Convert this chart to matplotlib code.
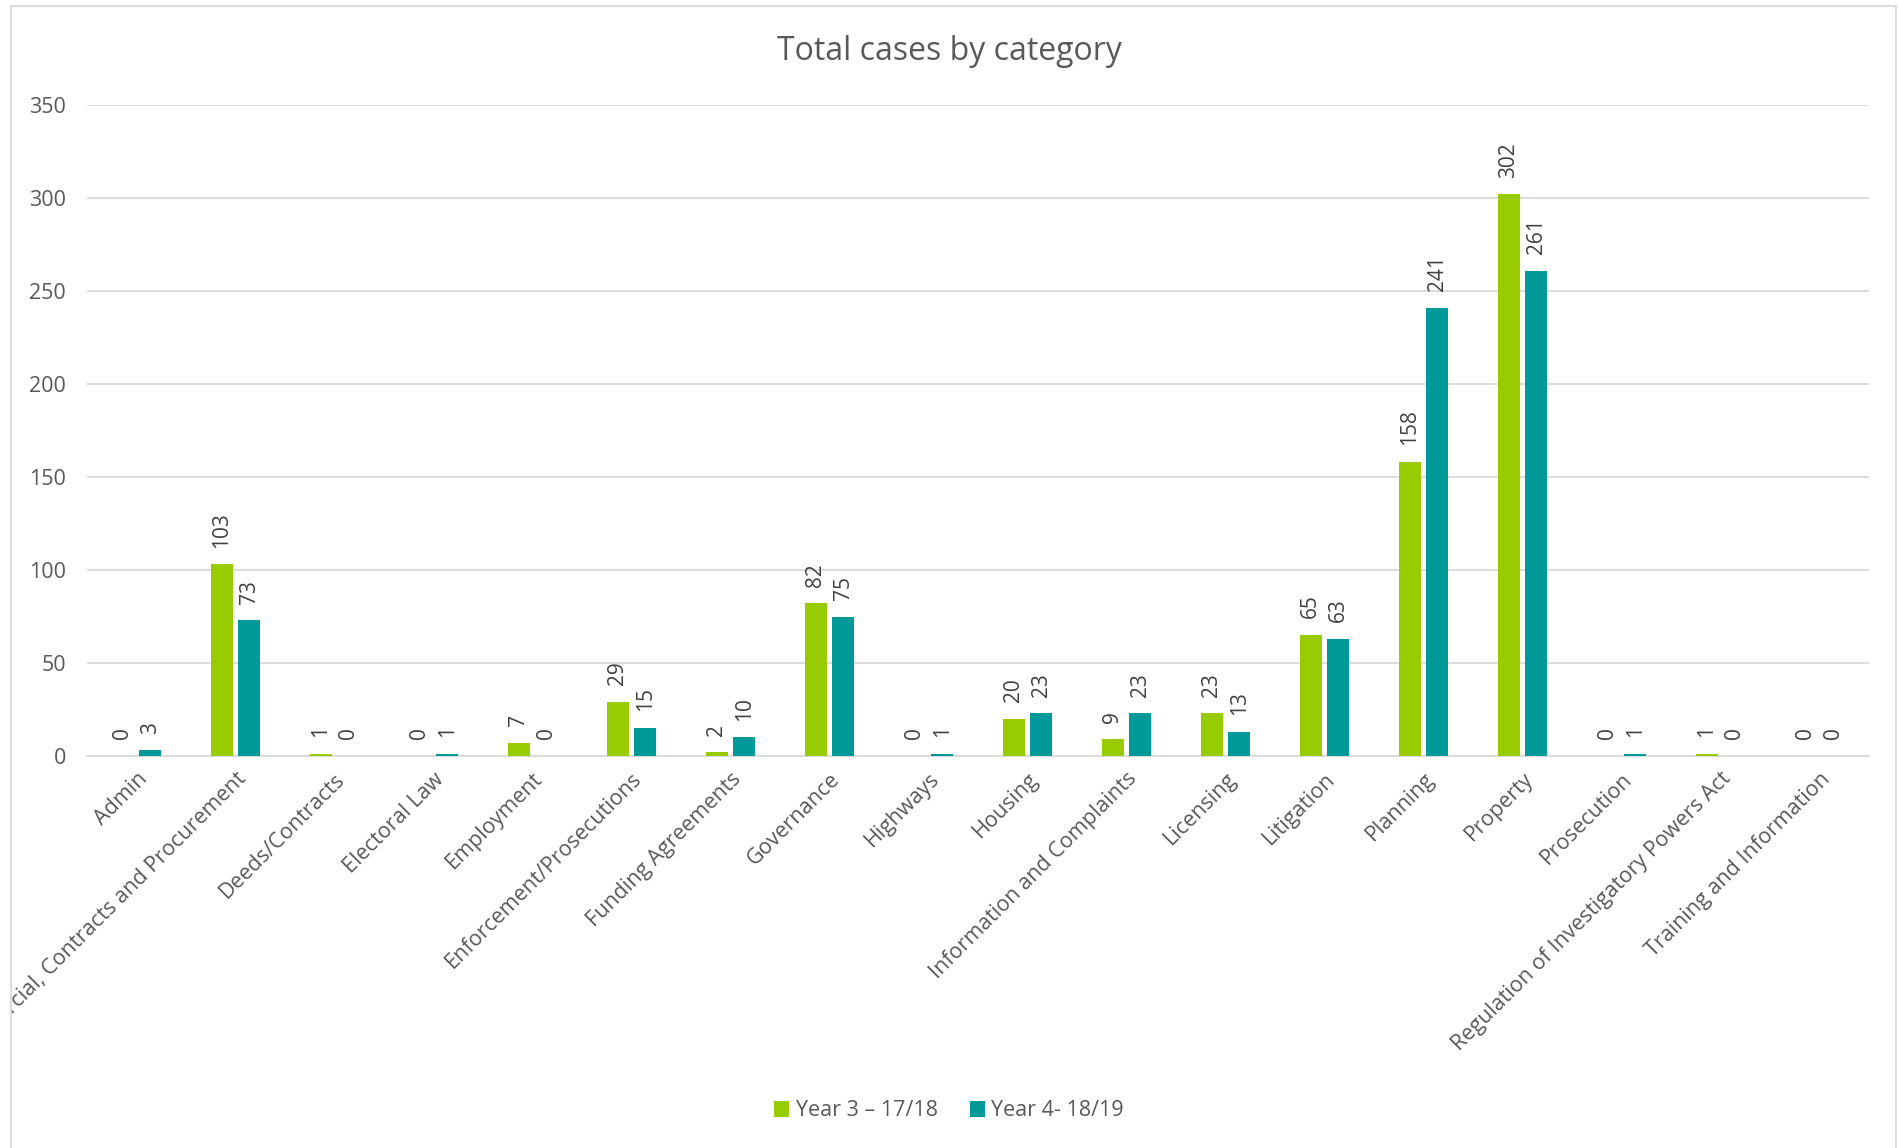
import numpy as np
import matplotlib
matplotlib.use("Agg")
import matplotlib.pyplot as plt
from matplotlib.patches import Rectangle
from matplotlib.transforms import Bbox, TransformedBbox

categories = [
    "Admin", "Commercial, Contracts and Procurement", "Deeds/Contracts",
    "Electoral Law", "Employment", "Enforcement/Prosecutions",
    "Funding Agreements", "Governance", "Highways", "Housing",
    "Information and Complaints", "Licensing", "Litigation", "Planning",
    "Property", "Prosecution", "Regulation of Investigatory Powers Act",
    "Training and Information",
]
year3 = [0, 103, 1, 0, 7, 29, 2, 82, 0, 20, 9, 23, 65, 158, 302, 0, 1, 0]
year4 = [3, 73, 0, 1, 0, 15, 10, 75, 1, 23, 23, 13, 63, 241, 261, 1, 0, 0]
series_names = ["Year 3 \u2013 17/18", "Year 4- 18/19"]

GREEN = "#99CC00"
TEAL = "#009999"
TEXT = "#595959"

plt.rcParams["font.family"] = ["Open Sans", "DejaVu Sans"]

fig = plt.figure(figsize=(18.98, 11.48), dpi=100)
ax = fig.add_axes([87 / 1898, 1 - 756 / 1148, (1869 - 87) / 1898, (756 - 105) / 1148])

x = np.arange(len(categories))
w = 0.22
off = 0.14
b3 = ax.bar(x - off, year3, w, color=GREEN, label=series_names[0], zorder=3)
b4 = ax.bar(x + off, year4, w, color=TEAL, label=series_names[1], zorder=3)

# data labels, rotated like the original
for bars, vals in ((b3, year3), (b4, year4)):
    for r, v in zip(bars, vals):
        ax.annotate(str(v), (r.get_x() + r.get_width() / 2, v),
                    xytext=(0, 12), textcoords="offset points",
                    rotation=90, ha="center", va="bottom",
                    fontsize=15, color="#404040")

ax.set_xlim(-0.5, len(categories) - 0.5)
ax.set_ylim(0, 350)
ax.set_yticks(np.arange(0, 351, 50))
ax.yaxis.grid(True, color="#D9D9D9", linewidth=1.3, zorder=0)
ax.set_axisbelow(True)
for s in ("top", "right", "left"):
    ax.spines[s].set_visible(False)
ax.spines["bottom"].set_color("#D9D9D9")
ax.spines["bottom"].set_linewidth(1.3)
ax.tick_params(axis="both", length=0, labelsize=15.5, colors=TEXT)
ax.tick_params(axis="y", pad=15)
ax.tick_params(axis="x", pad=9)

ax.set_xticks(x)
ax.set_xticklabels(categories, rotation=45, ha="right", rotation_mode="anchor")
clip = TransformedBbox(Bbox([[11 / 1898, 0], [1, 1]]), fig.transFigure)
for lbl in ax.get_xticklabels():
    lbl.set_clip_on(True)
    lbl.set_clip_box(clip)

fig.text(0.5, 1 - 51 / 1148, "Total cases by category", ha="center", va="center",
         fontsize=23, color=TEXT)

fig.legend(handles=[b3, b4], labels=series_names, loc="center",
           bbox_to_anchor=(0.5, 1 - 1111 / 1148), ncol=2, frameon=False,
           fontsize=15.5, labelcolor=TEXT, handlelength=0.7, handleheight=0.7,
           handletextpad=0.3, columnspacing=1.5)

# outer chart border
fig.patches.append(Rectangle((11 / 1898, -0.05), (1896 - 11) / 1898, 1.05 - 6 / 1148,
                             transform=fig.transFigure, fill=False,
                             edgecolor="#D9D9D9", linewidth=1.3))

fig.savefig("out.png", dpi=100)
